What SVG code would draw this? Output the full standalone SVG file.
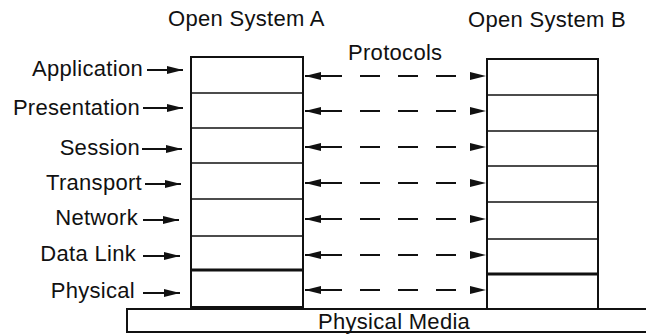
<svg xmlns="http://www.w3.org/2000/svg" width="646" height="335" viewBox="0 0 646 335">
<style>
text{font-family:"Liberation Sans",Arial,Helvetica,sans-serif;font-size:22px;fill:#111;letter-spacing:0.3px}
.lbl{text-anchor:end}
.box{fill:#fff;stroke:#111;stroke-width:2}
.sep{stroke:#111;stroke-width:1.6}
.thick{stroke:#111;stroke-width:3}
.arr{stroke:#111;stroke-width:2;fill:none;marker-end:url(#ah)}
.proto{stroke:#111;stroke-width:2;fill:none;stroke-dasharray:37 18 20 18 20 18 20 200;marker-start:url(#ah);marker-end:url(#ah)}
</style>
<defs>
<marker id="ah" markerUnits="userSpaceOnUse" markerWidth="17" markerHeight="10" refX="16" refY="5" orient="auto-start-reverse" viewBox="0 0 17 10">
<path d="M0,1 L16,5 L0,9 z" fill="#111"/>
</marker>
</defs>
<rect width="646" height="335" fill="#fff"/>
<g id="title-a"><text x="168" y="26">Open System A</text></g>
<g id="title-b"><text x="468" y="27">Open System B</text></g>
<g id="protocols-label"><text x="348" y="60">Protocols</text></g>
<g id="stack-a">
<rect class="box" x="191" y="57" width="112" height="250"/>
<line class="sep" x1="191" y1="93" x2="303" y2="93"/>
<line class="sep" x1="191" y1="128" x2="303" y2="128"/>
<line class="sep" x1="191" y1="163" x2="303" y2="163"/>
<line class="sep" x1="191" y1="199" x2="303" y2="199"/>
<line class="sep" x1="191" y1="236" x2="303" y2="236"/>
<line class="thick" x1="191" y1="270" x2="303" y2="270"/>
</g>
<g id="stack-b">
<rect class="box" x="487" y="59" width="111" height="251"/>
<line class="sep" x1="487" y1="95" x2="598" y2="95"/>
<line class="sep" x1="487" y1="131" x2="598" y2="131"/>
<line class="sep" x1="487" y1="166" x2="598" y2="166"/>
<line class="sep" x1="487" y1="202" x2="598" y2="202"/>
<line class="sep" x1="487" y1="239" x2="598" y2="239"/>
<line class="thick" x1="487" y1="274" x2="598" y2="274"/>
</g>
<g id="physical-media">
<rect class="box" x="127" y="309" width="540" height="23"/>
<text x="318" y="329">Physical Media</text>
</g>
<g id="labels">
<text class="lbl" x="143" y="76">Application</text>
<text class="lbl" x="140" y="115">Presentation</text>
<text class="lbl" x="140" y="155">Session</text>
<text class="lbl" x="142" y="190">Transport</text>
<text class="lbl" x="138" y="225">Network</text>
<text class="lbl" x="136" y="261">Data Link</text>
<text class="lbl" x="135" y="298">Physical</text>
</g>
<g id="connectors">
<line class="arr" x1="147" y1="70" x2="183" y2="70"/>
<line class="arr" x1="143" y1="108" x2="183" y2="108"/>
<line class="arr" x1="142" y1="149" x2="182" y2="149"/>
<line class="arr" x1="145" y1="184" x2="181" y2="184"/>
<line class="arr" x1="143" y1="220" x2="179" y2="220"/>
<line class="arr" x1="143" y1="256" x2="180" y2="256"/>
<line class="arr" x1="143" y1="293" x2="180" y2="293"/>
<line class="proto" x1="305" y1="76" x2="486" y2="76"/>
<line class="proto" x1="305" y1="111" x2="486" y2="111"/>
<line class="proto" x1="305" y1="147" x2="486" y2="147"/>
<line class="proto" x1="305" y1="183" x2="486" y2="183"/>
<line class="proto" x1="305" y1="219" x2="486" y2="219"/>
<line class="proto" x1="305" y1="255" x2="486" y2="255"/>
<line class="proto" x1="305" y1="290" x2="486" y2="290"/>
</g>
</svg>
